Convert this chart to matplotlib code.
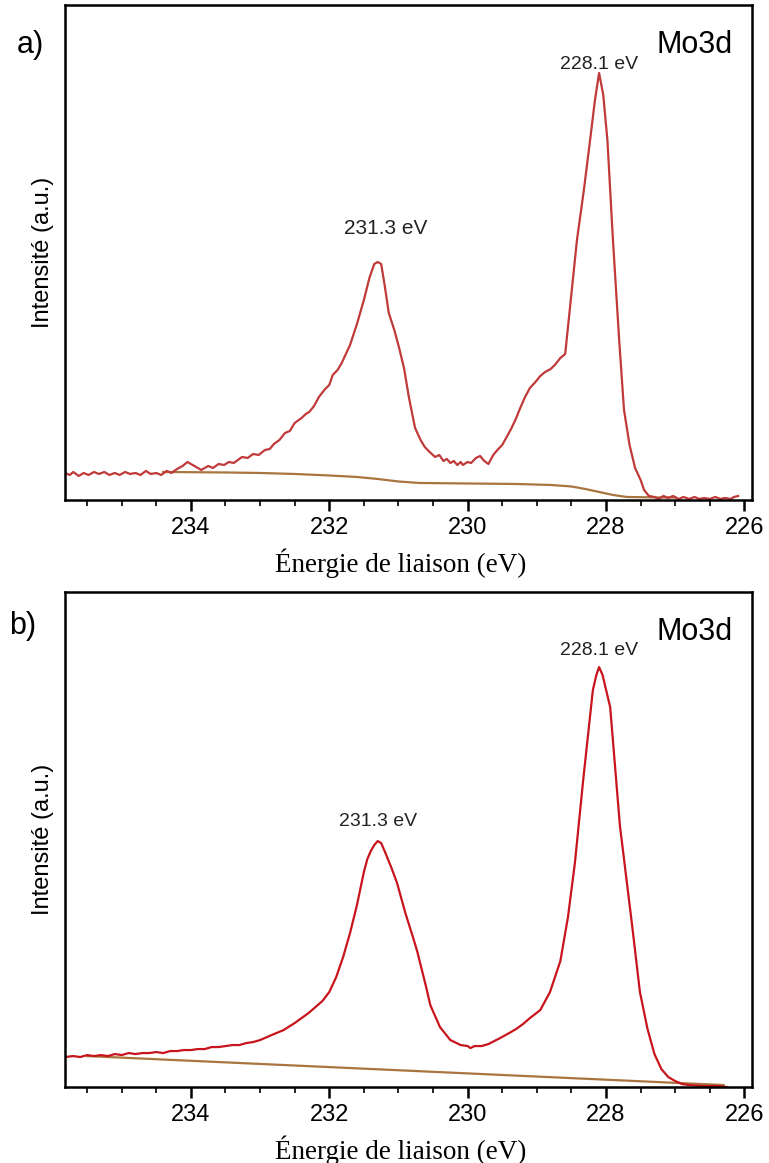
import numpy as np
import matplotlib.pyplot as plt
from matplotlib.ticker import MultipleLocator

# Mo3d XPS spectra, binding energy (eV) vs intensity (a.u.)
energy_a = [235.82, 235.75, 235.7, 235.62, 235.55, 235.48, 235.4, 235.33, 235.25, 235.18,
            235.1, 235.03, 234.95, 234.88, 234.8, 234.73, 234.65, 234.58, 234.5, 234.43,
            234.35, 234.28, 234.2, 234.12, 234.05, 233.95, 233.85, 233.75, 233.68, 233.6,
            233.52, 233.45, 233.38, 233.3, 233.26, 233.18, 233.1, 233.02, 232.93, 232.86,
            232.8, 232.72, 232.64, 232.57, 232.5, 232.4, 232.34, 232.29, 232.22, 232.15,
            232.06, 232.0, 231.95, 231.88, 231.82, 231.76, 231.7, 231.6, 231.5, 231.42,
            231.35, 231.3, 231.25, 231.2, 231.14, 231.06, 230.99, 230.92, 230.85, 230.76,
            230.68, 230.62, 230.55, 230.47, 230.41, 230.35, 230.3, 230.25, 230.2, 230.15,
            230.1, 230.07, 230.0, 229.95, 229.88, 229.82, 229.76, 229.7, 229.63, 229.57,
            229.5, 229.46, 229.38, 229.31, 229.24, 229.17, 229.1, 229.02, 228.95, 228.88,
            228.8, 228.74, 228.66, 228.59, 228.52, 228.42, 228.32, 228.23, 228.16, 228.1,
            228.04, 227.98, 227.9, 227.81, 227.74, 227.66, 227.58, 227.5, 227.45, 227.38,
            227.3, 227.24, 227.17, 227.1, 227.03, 226.95, 226.88, 226.8, 226.72, 226.65,
            226.58, 226.5, 226.42, 226.35, 226.28, 226.2, 226.15, 226.09]
counts_a = [27, 25, 28, 24, 27, 25, 28, 26, 28, 25,
            27, 25, 28, 26, 27, 25, 29, 26, 27, 25,
            29, 27, 31, 34, 38, 34, 30, 34, 32, 36,
            35, 38, 37, 41, 43, 42, 46, 45, 50, 51,
            56, 60, 67, 69, 77, 82, 86, 88, 94, 103,
            111, 115, 125, 130, 137, 146, 155, 176, 200, 222,
            236, 238, 236, 215, 187, 170, 152, 132, 103, 72,
            60, 53, 48, 43, 45, 39, 41, 37, 39, 35,
            38, 35, 38, 37, 42, 44, 39, 36, 45, 50,
            55, 60, 70, 80, 92, 103, 112, 118, 124, 128,
            131, 135, 142, 146, 193, 260, 310, 360, 400, 427,
            405, 360, 260, 160, 90, 55, 32, 20, 10, 4,
            3, 1, 4, 2, 4, 1, 3, 1, 3, 1,
            2, 1, 3, 1, 2, 1, 3, 4]
bg_energy_a = [234.4, 233.5, 233.0, 232.5, 232.0, 231.6, 231.3, 231.0, 230.7, 230.0,
               229.3, 228.8, 228.5, 228.3, 228.1, 227.9, 227.7, 227.2, 227.0]
bg_counts_a = [28, 27.5, 27, 26, 24.5, 23, 21, 18.5, 17, 16.5,
               16, 15, 13.5, 11, 8, 5, 3, 2.5, 2.5]

energy_b = [235.82, 235.7, 235.6, 235.5, 235.4, 235.3, 235.2, 235.1, 235.0, 234.9,
            234.8, 234.7, 234.6, 234.5, 234.4, 234.3, 234.2, 234.1, 234.0, 233.9,
            233.8, 233.7, 233.6, 233.5, 233.4, 233.3, 233.2, 233.1, 233.0, 232.9,
            232.8, 232.66, 232.5, 232.4, 232.3, 232.2, 232.1, 232.0, 231.9, 231.8,
            231.7, 231.6, 231.5, 231.45, 231.4, 231.35, 231.3, 231.25, 231.2, 231.1,
            231.02, 230.9, 230.8, 230.73, 230.6, 230.54, 230.4, 230.25, 230.1, 230.0,
            229.96, 229.9, 229.8, 229.7, 229.53, 229.4, 229.3, 229.2, 229.1, 228.95,
            228.81, 228.66, 228.55, 228.45, 228.33, 228.19, 228.14, 228.1, 228.05, 227.94,
            227.8, 227.62, 227.51, 227.4, 227.3, 227.2, 227.1, 227.0, 226.9, 226.8,
            226.6, 226.4, 226.25]
counts_b = [30, 31, 30, 32, 31, 32, 31, 33, 32, 34,
            33, 34, 34, 35, 34, 36, 36, 37, 37, 38,
            38, 40, 40, 41, 42, 42, 44, 45, 47, 50,
            53, 57, 64, 69, 74, 80, 86, 95, 110, 130,
            154, 182, 215, 228, 236, 242, 246, 244, 236, 219,
            204, 174, 152, 136, 100, 82, 60, 47, 42, 41,
            39, 41, 41, 43, 49, 54, 58, 63, 69, 77,
            95, 126, 170, 224, 307, 397, 412, 420, 412, 380,
            262, 160, 95, 58, 33, 18, 10, 6, 3, 2,
            1, 1, 0]
bg_energy_b = [235.5, 226.3]
bg_counts_b = [31, 2]

panels = [
    ("a)", energy_a, counts_a, bg_energy_a, bg_counts_a, "#c03a3a",
     [("231.3 eV", 231.3, 238, 5.5, 17, 15), ("228.1 eV", 228.1, 427, 0, 0, 14)]),
    ("b)", energy_b, counts_b, bg_energy_b, bg_counts_b, "#c8141c",
     [("231.3 eV", 231.3, 246, 0, 8, 14), ("228.1 eV", 228.1, 420, 0, 6, 14)]),
]

fig = plt.figure(figsize=(7.69, 11.63), dpi=100)
axes_boxes = [[0.0845, 0.5701, 0.8934, 0.4256], [0.0845, 0.0653, 0.8934, 0.4256]]
tag_pos = [(0.039, 0.961), (0.029, 0.462)]

for i, (tag, e, c, be, bc, col, notes) in enumerate(panels):
    ax = fig.add_axes(axes_boxes[i])
    ax.plot(be, bc, color="#a8743f", lw=1.6)
    ax.plot(e, c, color=col, lw=1.6)
    ax.set_xlim(235.82, 225.89)
    ax.set_ylim(0, 495)
    ax.set_yticks([])
    ax.xaxis.set_major_locator(MultipleLocator(2))
    ax.xaxis.set_minor_locator(MultipleLocator(0.5))
    ax.tick_params(axis="x", which="major", direction="out", length=8, width=1.8,
                   labelsize=17, pad=4)
    ax.tick_params(axis="x", which="minor", direction="out", length=4, width=1.2)
    for lab in ax.get_xticklabels():
        lab.set_family("Liberation Sans")
    for s in ax.spines.values():
        s.set_linewidth(1.8)
    ax.set_xlabel("Énergie de liaison (eV)", family="Liberation Serif", fontsize=19.5)
    ax.xaxis.set_label_coords(0.488, -0.098)
    ax.set_ylabel("Intensité (a.u.)", family="Liberation Sans", fontsize=17, labelpad=8)
    for txt, xe, yv, dx, dy, fs in notes:
        ax.annotate(txt, xy=(xe, yv), xytext=(dx, dy), textcoords="offset points",
                    ha="center", va="bottom", fontsize=fs, family="Liberation Sans",
                    color="#222222")
    ax.text(0.917, 0.919, "Mo3d", transform=ax.transAxes, ha="center", va="center",
            fontsize=22, family="Liberation Sans")
    fig.text(tag_pos[i][0], tag_pos[i][1], tag, ha="center", va="center",
             fontsize=22, family="Liberation Sans")

fig.savefig("out.png", dpi=100)
